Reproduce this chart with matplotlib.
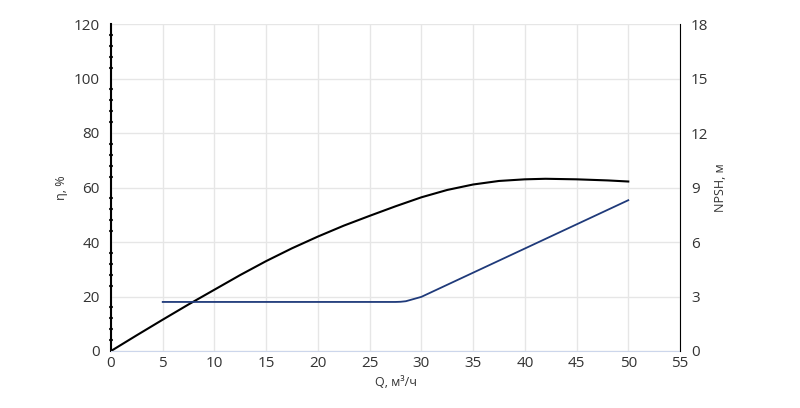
import matplotlib
matplotlib.use("Agg")
import matplotlib.pyplot as plt
from matplotlib.ticker import MultipleLocator

q_eff = [0, 2.5, 5, 7.5, 10, 12.5, 15, 17.5, 20, 22.5, 25, 27.5, 30, 32.5, 35, 37.5, 40, 42, 45, 48, 50]
eff = [0, 5.8, 11.5, 17.1, 22.5, 27.9, 33, 37.7, 42, 46, 49.6, 53.1, 56.4, 59.1, 61.1, 62.4, 63, 63.2, 63, 62.6, 62.2]
q_npsh = [5, 10, 20, 27.5, 28, 28.5, 29, 30, 35, 40, 45, 50]
npsh = [2.7, 2.7, 2.7, 2.7, 2.71, 2.74, 2.82, 2.98, 4.31, 5.64, 6.97, 8.3]

plt.rcParams['font.family'] = ['Open Sans', 'DejaVu Sans']
fig = plt.figure(figsize=(8, 4.08), dpi=100)
ax = fig.add_axes([111/800, 1-351/408, 569/800, 327/408])
ax.plot(q_eff, eff, color='black', lw=1.5)
ax.set_xlim(0, 55); ax.set_ylim(0, 120)
ax.xaxis.set_major_locator(MultipleLocator(5))
ax.yaxis.set_major_locator(MultipleLocator(20))
ax.yaxis.set_minor_locator(MultipleLocator(4))
ax.grid(True, color='#e6e6e6', lw=1)
for s in ['top', 'right']:
    ax.spines[s].set_visible(False)
ax.spines['left'].set_color('black'); ax.spines['left'].set_linewidth(1.5)
ax.spines['bottom'].set_color('#ccd6eb')
ax.tick_params(axis='y', which='minor', direction='inout', length=2.5, width=1.5, colors='#333333')
ax.tick_params(axis='y', which='major', length=0, pad=8, labelcolor='#333333', labelsize=11)
ax.tick_params(axis='x', length=0, labelsize=11, labelcolor='#333333')
ax.set_ylabel('η, %', fontsize=9, color='#333333')
ax.set_xlabel('Q, м³/ч', fontsize=9, color='#333333')
ax2 = ax.twinx()
ax2.plot(q_npsh, npsh, color='#1f3a7a', lw=1.3)
ax2.set_ylim(0, 18)
ax2.yaxis.set_major_locator(MultipleLocator(3))
for s in ['top', 'left', 'bottom']:
    ax2.spines[s].set_visible(False)
ax2.spines['right'].set_color('black')
ax2.tick_params(axis='y', length=0, labelsize=11, labelcolor='#333333', pad=8)
ax2.set_ylabel('NPSH, м', fontsize=9, color='#333333')
fig.savefig('out.png', dpi=100)
